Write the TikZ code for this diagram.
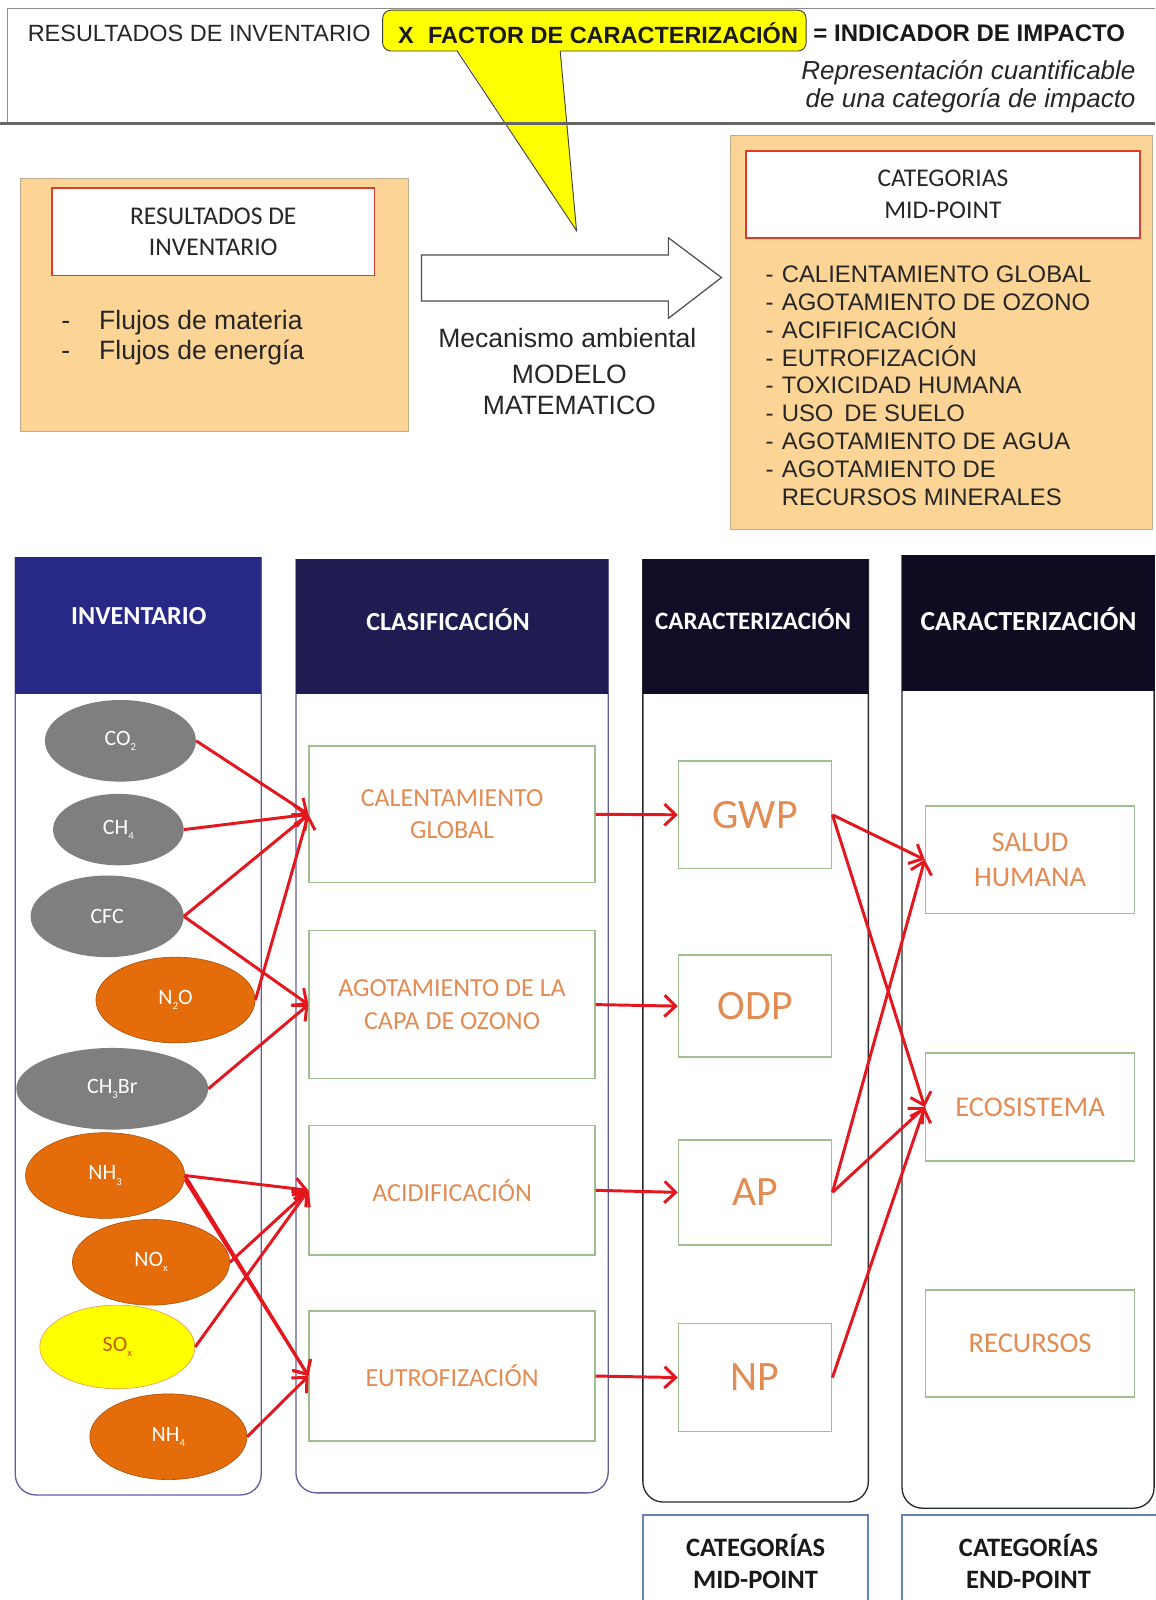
\documentclass[tikz,border=0pt]{standalone}
\usepackage{fontspec}
\setmainfont{Liberation Sans}
\newfontfamily\carlito{Carlito}
\usetikzlibrary{shapes.geometric,arrows.meta}

\definecolor{panelfill}{RGB}{251,212,150}
\definecolor{panelline}{RGB}{190,172,140}
\definecolor{titlered}{RGB}{222,60,45}
\definecolor{callout}{RGB}{255,255,0}
\definecolor{hdrA}{RGB}{40,40,135}
\definecolor{hdrB}{RGB}{30,28,80}
\definecolor{hdrC}{RGB}{18,12,38}
\definecolor{hdrD}{RGB}{15,11,32}
\definecolor{colA}{RGB}{95,95,160}
\definecolor{colC}{RGB}{40,40,45}
\definecolor{boxgreen}{RGB}{160,190,145}
\definecolor{boxtext}{RGB}{226,140,84}
\definecolor{gasgray}{RGB}{127,127,127}
\definecolor{gasorange}{RGB}{228,108,10}
\definecolor{gasyellow}{RGB}{255,255,0}
\definecolor{link}{RGB}{228,22,30}
\definecolor{tagline}{RGB}{100,130,185}

\newcommand\fsz[2]{\fontsize{#1}{#2}\selectfont}
\newcommand\lowsub[1]{\raisebox{-5pt}{\fsz{10.5}{10.5}#1}}

\tikzset{
  panel/.style={draw=panelline, line width=0.8pt, fill=panelfill, inner sep=0pt},
  titlebox/.style={draw=titlered, line width=1.5pt, fill=white, inner sep=0pt,
    font=\carlito\fsz{25}{31}, align=center, text=black!85},
  hdr/.style={font=\carlito\bfseries\fsz{25.5}{30}, text=white},
  gas/.style={ellipse, inner sep=0pt, font=\carlito\fsz{21.5}{24}, text=white},
  grayg/.style={gas, fill=gasgray},
  orangeg/.style={gas, fill=gasorange, draw=gasorange!75!black, line width=0.6pt},
  yellowg/.style={gas, fill=gasyellow, draw=gasorange!70, line width=0.6pt, text=gasorange!85!black},
  stage/.style={draw=boxgreen, line width=1.5pt, fill=white, inner sep=0pt,
    font=\carlito\fsz{25.5}{32}, text=boxtext, align=center, minimum width=280},
  midbox/.style={stage, minimum width=150, font=\carlito\fsz{41}{48}},
  endbox/.style={stage, minimum width=205, font=\carlito\fsz{28}{35}},
  arr/.style={draw=link, line width=2.9pt, -{Straight Barb[length=11pt,width=21pt]}},
  tagtext/.style={font=\carlito\bfseries\fsz{26}{31}, align=center, text=black!90, inner sep=0pt}
}

\begin{document}
\begin{tikzpicture}[x=1pt,y=-1pt]
\useasboundingbox (0,0) rectangle (1132,1568);
\fill[white] (0,0) rectangle (1132,1568);

% ---------- callout balloon ----------
\draw[fill=callout, draw=black!75, line width=0.9pt, rounded corners=8pt] (375,10) rectangle (790,50);
\fill[callout] (448,48) -- (565,226) -- (549,48) -- cycle;
\draw[black!75, line width=0.9pt] (448,50) -- (565,226) -- (549,50);

% ---------- banner frame ----------
\draw[black!45, line width=1pt] (7,121) -- (7,8) -- (1132,8);
\draw[black!60, line width=2.6pt] (0,121) -- (1132,121);

% ---------- equation ----------
\node[anchor=west, font=\fsz{23}{27}, text=black!85, inner sep=0pt] (eqA) at (27,33) {RESULTADOS DE INVENTARIO};
\node[anchor=west, font=\bfseries\fsz{23}{27}, text=black!90, inner sep=0pt] (eqB) at (390,33) {X\hspace{14pt}FACTOR DE CARACTERIZACIÓN};
\node[anchor=west, font=\bfseries\fsz{23.5}{27}, text=black!90, inner sep=0pt] (eqC) at (797,33) {= INDICADOR DE IMPACTO};
\node[anchor=east, align=right, font=\itshape\fsz{25.5}{28}, text=black!85, inner sep=0pt] (eqD) at (1113,85) {Representación cuantificable\\de una categoría de impacto};

% ---------- inventory panel ----------
\node[panel, minimum width=380, minimum height=248] (leftpanel) at (210,299) {};
\node[titlebox, minimum width=316, minimum height=86] (invtitle) at (209,227) {RESULTADOS DE\\INVENTARIO};
\node[anchor=west, align=left, font=\fsz{26}{30}, inner sep=0pt, text=black!85] (flows) at (60,331)
  {\makebox[37pt][l]{-}Flujos de materia\\\makebox[37pt][l]{-}Flujos de energía};

% ---------- block arrow ----------
\draw[fill=white, draw=black!70, line width=1.2pt] (413,250) -- (655,250) -- (655,233) -- (707,272) -- (655,312) -- (655,295) -- (413,295) -- cycle;
\node[font=\fsz{26}{30}, inner sep=0pt, text=black!85] (mech) at (556,331) {Mecanismo ambiental};
\node[font=\fsz{26}{30}, align=center, inner sep=0pt, text=black!85] (model) at (558,382) {MODELO\\MATEMATICO};

% ---------- mid-point categories panel ----------
\node[panel, minimum width=413, minimum height=386] (rightpanel) at (922.5,326) {};
\node[titlebox, minimum width=386, minimum height=85, font=\carlito\fsz{25}{32}] (midtitle) at (924,190.5) {CATEGORIAS\\MID-POINT};
\node[anchor=west, align=left, font=\fsz{23.4}{27.3}, inner sep=0pt, text=black!85] (catlist) at (750,378)
  {\makebox[16pt][l]{-}CALIENTAMIENTO GLOBAL\\
   \makebox[16pt][l]{-}AGOTAMIENTO DE OZONO\\
   \makebox[16pt][l]{-}ACIFIFICACIÓN\\
   \makebox[16pt][l]{-}EUTROFIZACIÓN\\
   \makebox[16pt][l]{-}TOXICIDAD HUMANA\\
   \makebox[16pt][l]{-}USO\hspace{4pt} DE SUELO\\
   \makebox[16pt][l]{-}AGOTAMIENTO DE AGUA\\
   \makebox[16pt][l]{-}AGOTAMIENTO DE\\
   \hspace*{16pt}RECURSOS MINERALES};

% ---------- columns ----------
\draw[colA, line width=1.3pt, rounded corners=20pt] (15,546) -- (15,1465) -- (256,1465) -- (256,546);
\fill[hdrA] (15,546) rectangle (256,680);
\node[hdr] (hInv) at (136,604) {INVENTARIO};

\draw[colA, line width=1.3pt, rounded corners=20pt] (290,548) -- (290,1463) -- (596,1463) -- (596,548);
\fill[hdrB] (290,548) rectangle (596,680);
\node[hdr] (hCla) at (439,607) {CLASIFICACIÓN};

\draw[colC, line width=1.3pt, rounded corners=20pt] (630,548) -- (630,1472) -- (851,1472) -- (851,548);
\fill[hdrC] (630,548) rectangle (851,680);
\node[hdr, font=\carlito\bfseries\fsz{24.5}{30}] (hMid) at (738,607) {CARACTERIZACIÓN};

\draw[colC, line width=1.3pt, rounded corners=20pt] (884,544) -- (884,1478) -- (1131,1478) -- (1131,544);
\fill[hdrD] (884,544) rectangle (1132,677);
\node[hdr, font=\carlito\bfseries\fsz{27}{30}] (hEnd) at (1008,607) {CARACTERIZACIÓN};

% ---------- category tags ----------
\draw[tagline, line width=2pt, fill=white] (630,1485) rectangle (851,1600);
\node[tagtext] (tagMid) at (740.5,1530) {CATEGORÍAS\\MID-POINT};
\draw[tagline, line width=2pt, fill=white] (884,1485) rectangle (1140,1600);
\node[tagtext] (tagEnd) at (1008,1530) {CATEGORÍAS\\END-POINT};

% ---------- inventory flows ----------
\node[grayg, minimum width=148, minimum height=80] (co2) at (118,726) {CO\lowsub{2}};
\node[grayg, minimum width=128, minimum height=70] (ch4) at (116,813) {CH\lowsub{4}};
\node[grayg, minimum width=150, minimum height=80] (cfc) at (105,898) {CFC};
\node[orangeg, minimum width=156, minimum height=84] (n2o) at (172,980) {N\lowsub{2}O};
\node[grayg, minimum width=188, minimum height=80] (ch3br) at (110,1067) {CH\lowsub{3}Br};
\node[orangeg, minimum width=156, minimum height=84] (nh3) at (103,1152) {NH\lowsub{3}};
\node[orangeg, minimum width=154, minimum height=84] (nox) at (148,1237) {NO\lowsub{x}};
\node[yellowg, minimum width=152, minimum height=82] (sox) at (115,1320) {SO\lowsub{x}};
\node[orangeg, minimum width=154, minimum height=84] (nh4) at (165,1408) {NH\lowsub{4}};

% ---------- impact categories ----------
\node[stage, minimum height=134] (cg) at (443,798) {CALENTAMIENTO\\GLOBAL};
\node[stage, minimum height=145] (aoc) at (443,984.5) {AGOTAMIENTO DE LA\\CAPA DE OZONO};
\node[stage, minimum height=127] (acid) at (443,1166.5) {ACIDIFICACIÓN};
\node[stage, minimum height=127] (eutro) at (443,1348.5) {EUTROFIZACIÓN};

\node[midbox, minimum height=105] (gwp) at (740,798.5) {GWP};
\node[midbox, minimum height=100] (odp) at (740,986) {ODP};
\node[midbox, minimum height=103] (ap) at (740,1168.5) {AP};
\node[midbox, minimum height=106] (np) at (740,1350) {NP};

\node[endbox, minimum height=105] (salud) at (1009.5,842.5) {SALUD\\HUMANA};
\node[endbox, minimum height=106] (eco) at (1009.5,1085) {ECOSISTEMA};
\node[endbox, minimum height=105] (recursos) at (1009.5,1316.5) {RECURSOS};

% ---------- classification links ----------
\draw[arr] (co2.east) -- (cg.west);
\draw[arr] (ch4.east) -- (cg.west);
\draw[arr] (cfc.east) -- (cg.west);
\draw[arr] (n2o.east) -- (cg.west);
\draw[arr] (cfc.east) -- (aoc.west);
\draw[arr] (ch3br.east) -- (aoc.west);
\draw[arr] (nh3.east) -- (acid.west);
\draw[arr] (nh3.east) -- (eutro.west);
\draw[arr] ([yshift=-4pt]nh3.east) -- (eutro.west);
\draw[arr] (nox.east) -- (acid.west);
\draw[arr] (sox.east) -- (acid.west);
\draw[arr] (nh4.east) -- (eutro.west);

% ---------- characterisation links ----------
\draw[arr] (cg.east) -- (gwp.west);
\draw[arr] (aoc.east) -- (odp.west);
\draw[arr] (acid.east) -- (ap.west);
\draw[arr] (eutro.east) -- (np.west);

\draw[arr] (gwp.east) -- (salud.west);
\draw[arr] (gwp.east) -- (eco.west);
\draw[arr] (ap.east) -- (salud.west);
\draw[arr] (ap.east) -- (eco.west);
\draw[arr] (np.east) -- (eco.west);
\end{tikzpicture}
\end{document}
